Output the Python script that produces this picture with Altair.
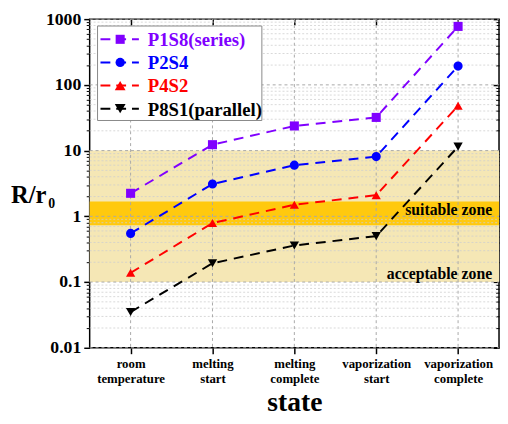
import altair as alt
import pandas as pd

# ---------------- data ----------------
states = ["room temperature", "melting start", "melting complete",
          "vaporization start", "vaporization complete"]
series = ["P1S8(series)", "P2S4", "P4S2", "P8S1(parallel)"]
colors = ["#8000FF", "#0000FF", "#FF0000", "#000000"]
shapes = ["square", "circle", "triangle-up", "triangle-down"]
marker_sizes = [85, 90, 120, 120]

p1s8 = [2.24, 12.3, 23.7, 32, 775]
p2s4 = [0.55, 3.1, 6.0, 8.1, 193]
p4s2 = [0.138, 0.79, 1.5, 2.1, 48]
p8s1 = [0.035, 0.193, 0.36, 0.5, 11.5]

major_ticks = [0.01, 0.1, 1, 10, 100, 1000]
minor_ticks = [d * k for d in [0.01, 0.1, 1, 10, 100] for k in range(2, 10)]

zone_names = ["acceptable", "suitable"]
zone_lo = [0.1, 0.73]
zone_hi = [10, 1.68]
zone_fill = ["#F5E7B5", "#FFC90E"]
zone_labels = ["acceptable zone", "suitable zone"]
zone_label_y = [0.134, 1.23]

# ---------------- layout ----------------
W, H = 416, 334
FONT = "Liberation Serif"

rows = []
for name, vals in zip(series, [p1s8, p2s4, p4s2, p8s1]):
    for i, (st, v) in enumerate(zip(states, vals)):
        rows.append({"state": st, "value": v, "series": name, "idx": i})
df = pd.DataFrame(rows)

bands_df = pd.DataFrame({"zone": zone_names, "lo": zone_lo, "hi": zone_hi, "fill": zone_fill})
zone_txt_df = pd.DataFrame({"label": zone_labels, "y": zone_label_y})
major_df = pd.DataFrame({"v": major_ticks})
minor_df = pd.DataFrame({"v": minor_ticks})
states_df = pd.DataFrame({"state": states})
one = pd.DataFrame({"a": [0]})

xscale = alt.Scale(type="point", domain=states, padding=0.5)
yscale = alt.Scale(type="log", domain=[0.01, 1000], nice=False)
cscale = alt.Scale(domain=series, range=colors)
sscale = alt.Scale(domain=series, range=shapes)
zscale = alt.Scale(domain=series, range=marker_sizes)

# bands + left major axis
bands = alt.Chart(bands_df).mark_rect().encode(
    x=alt.value(0), x2=alt.value(W),
    y=alt.Y("lo:Q", scale=yscale,
            axis=alt.Axis(orient="left", values=major_ticks, format="~g", title=None,
                          grid=False, domain=False, tickSize=6, tickWidth=1.5,
                          tickColor="black", labelFont=FONT, labelFontWeight="bold",
                          labelFontSize=18, labelColor="black", labelPadding=3)),
    y2="hi:Q",
    color=alt.Color("fill:N", scale=None),
)

# minor y grid + left minor ticks
minor_grid = alt.Chart(minor_df).mark_rule(color="#cfcfcf", strokeDash=[2, 2], strokeWidth=0.8).encode(
    x=alt.value(0), x2=alt.value(W),
    y=alt.Y("v:Q", scale=yscale,
            axis=alt.Axis(orient="left", values=minor_ticks, labels=False, title=None,
                          grid=False, domain=False, tickSize=3.5, tickWidth=1,
                          tickColor="black")),
)

# major y grid + right major inward ticks
major_grid = alt.Chart(major_df).mark_rule(color="#a8a8a8", strokeDash=[3, 3], strokeWidth=1).encode(
    x=alt.value(0), x2=alt.value(W),
    y=alt.Y("v:Q", scale=yscale,
            axis=alt.Axis(orient="right", values=major_ticks, labels=False, title=None,
                          grid=False, domain=False, tickSize=6, tickWidth=1.5,
                          tickColor="black", offset=-6)),
)

# x grid + top inward ticks
x_grid = alt.Chart(states_df).mark_rule(color="#a8a8a8", strokeDash=[3, 3], strokeWidth=1).encode(
    x=alt.X("state:N", scale=xscale,
            axis=alt.Axis(orient="top", labels=False, title=None, grid=False, domain=False,
                          tickSize=6, tickWidth=1.5, tickColor="black", offset=-6)),
    y=alt.value(0), y2=alt.value(H),
)

# data lines + bottom axis + right minor ticks
lines = alt.Chart(df).mark_line(strokeDash=[10, 7], strokeWidth=2).encode(
    x=alt.X("state:N", scale=xscale,
            axis=alt.Axis(orient="bottom", title="state", grid=False, domain=False,
                          tickSize=6, tickWidth=1.5, tickColor="black", labelAngle=0,
                          labelExpr="split(datum.label, ' ')", labelLineHeight=15,
                          labelFont=FONT, labelFontWeight="bold", labelFontSize=13,
                          labelColor="black", labelPadding=4,
                          titleFont=FONT, titleFontWeight="bold", titleFontSize=28,
                          titleColor="black", titlePadding=4)),
    y=alt.Y("value:Q", scale=yscale,
            axis=alt.Axis(orient="right", values=minor_ticks, labels=False, title=None,
                          grid=False, domain=False, tickSize=3.5, tickWidth=1,
                          tickColor="black", offset=-3.5)),
    color=alt.Color("series:N", scale=cscale, legend=None),
    detail="series:N",
    order=alt.Order("idx:Q"),
)

points = alt.Chart(df).mark_point(filled=True, opacity=1).encode(
    x=alt.X("state:N", scale=xscale, axis=None),
    y=alt.Y("value:Q", scale=yscale, axis=None),
    color=alt.Color("series:N", scale=cscale, legend=None),
    shape=alt.Shape("series:N", scale=sscale, legend=None),
    size=alt.Size("series:N", scale=zscale, legend=None),
)

zone_text = alt.Chart(zone_txt_df).mark_text(
    align="right", baseline="middle", font=FONT, fontWeight="bold", fontSize=16, color="black"
).encode(
    x=alt.value(409),
    y=alt.Y("y:Q", scale=yscale, axis=None),
    text="label:N",
)

# y title R/r0
ytitle = alt.Chart(one).mark_text(align="left", baseline="alphabetic", font=FONT,
                                  fontWeight="bold", fontSize=25, color="black").encode(
    x=alt.value(-80), y=alt.value(187), text=alt.value("R/r"))
ysub = alt.Chart(one).mark_text(align="left", baseline="alphabetic", font=FONT,
                                fontWeight="bold", fontSize=14, color="black").encode(
    x=alt.value(-42), y=alt.value(192), text=alt.value("0"))

# legend
legend_layers = [
    alt.Chart(one).mark_rect(fill="white", stroke="#888888", strokeWidth=1).encode(
        x=alt.value(8), x2=alt.value(175), y=alt.value(7), y2=alt.value(103))
]
for i, (s, c, sh, sz) in enumerate(zip(series, colors, shapes, marker_sizes)):
    yy = 20.5 + i * 23.5
    legend_layers.append(
        alt.Chart(one).mark_rule(color=c, strokeWidth=2, strokeDash=[10, 6]).encode(
            x=alt.value(11), x2=alt.value(50), y=alt.value(yy)))
    legend_layers.append(
        alt.Chart(one).mark_point(filled=True, size=sz, opacity=1, color=c, shape=sh).encode(
            x=alt.value(31), y=alt.value(yy)))
    legend_layers.append(
        alt.Chart(one).mark_text(align="left", baseline="middle", font=FONT, fontWeight="bold",
                                 fontSize=19, color=c).encode(
            x=alt.value(59), y=alt.value(yy + 1), text=alt.value(s)))

chart = alt.layer(
    bands, minor_grid, major_grid, x_grid, lines, points, zone_text, ytitle, ysub, *legend_layers
).resolve_axis(
    x="independent", y="independent"
).properties(
    width=W, height=H,
    padding={"left": 83, "top": 8, "right": 1, "bottom": 66},
    autosize=alt.AutoSizeParams(type="none"),
).configure_view(stroke="black", strokeWidth=1.5)

chart.save("out.html", embed_options={"renderer": "svg", "actions": False})
